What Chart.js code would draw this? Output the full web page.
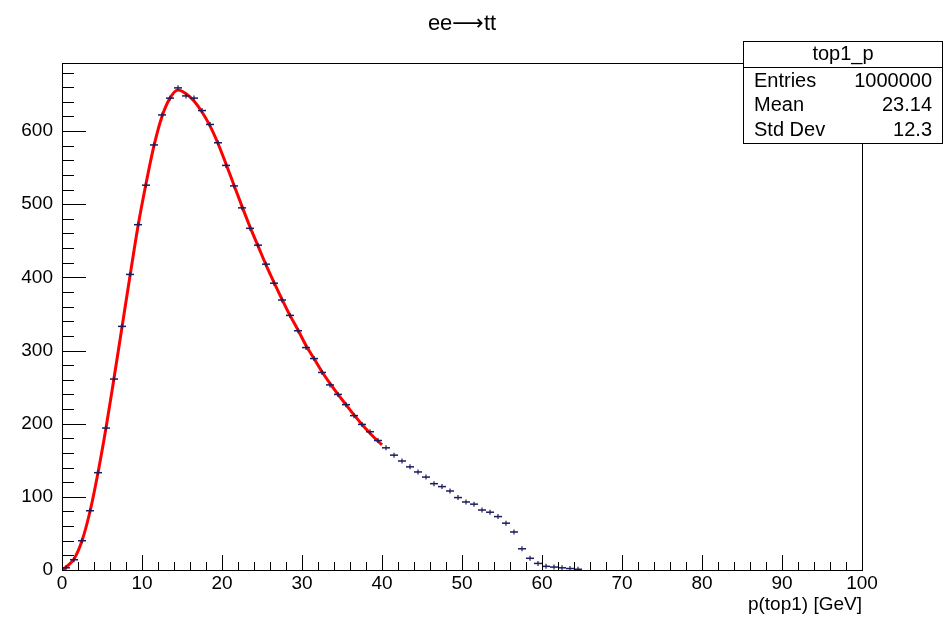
<!DOCTYPE html>
<html>
<head>
<meta charset="utf-8">
<script src="https://cdn.jsdelivr.net/npm/chart.js@4"></script>
<style>
  body { margin: 0; background: #fff; }
</style>
</head>
<body>
<canvas id="histChart" width="944" height="618"></canvas>
<script>
// histogram top1_p : 1 GeV bins starting at 0
const binStart = 0;
const binWidth = 1;
const binCounts = [
  3, 14, 40, 81, 133, 194, 261, 333, 404, 472,
  526, 581, 622, 645, 659, 648, 645, 628, 609, 584,
  553, 525, 495, 467, 444, 418, 392, 369, 348, 327,
  304, 289, 270, 253, 240, 226, 211, 199, 189, 177,
  167, 157, 149, 141, 134, 127, 118, 114, 108, 99,
  93, 90, 82, 79, 73, 64, 52, 29, 16, 9,
  5, 4, 3, 2, 1
];

// fit curve (drawn 0..40 GeV)
const fitX = [0, 0.5, 1.5, 2.5, 3.5, 4.5, 5.5, 6.5, 7.5, 8.5,
  9.5, 10.5, 11.5, 12.5, 13.5, 14.5, 15.5, 16.5, 17.5, 18.5,
  19.5, 20.5, 21.5, 22.5, 23.5, 24.5, 25.5, 26.5, 27.5, 28.5,
  29.5, 30.5, 31.5, 32.5, 33.5, 34.5, 35.5, 36.5, 37.5, 38.5,
  39.5, 40];
const fitY = [0, 4, 15, 40, 80, 133, 194, 262, 332, 402,
  470, 528, 580, 620, 645, 656, 651, 641, 626, 607,
  583, 555, 526, 497, 469, 443, 417, 393, 370, 348,
  328, 307, 289, 271, 255, 240, 226, 212, 199, 187,
  176, 171];

const yTickValues = [0, 100, 200, 300, 400, 500, 600];
const xTickValues = [0, 10, 20, 30, 40, 50, 60, 70, 80, 90, 100];

const statsName = 'top1_p';
const statsLabels = ['Entries', 'Mean', 'Std Dev'];
const statsValues = ['1000000', '23.14', '12.3'];

const FONT = "'Liberation Sans', Arial, Helvetica, sans-serif";
const MARKER = '#1c1c5c';

const histPoints = binCounts.map((c, i) => ({ x: binStart + (i + 0.5) * binWidth, y: c }));
const fitPoints = fitX.map((x, i) => ({ x: x, y: fitY[i] }));

// ROOT-like frame, inward ticks and stats box
const rootFrame = {
  id: 'rootFrame',
  afterDatasetsDraw(chart) {
    const { ctx, chartArea: a, scales: { x, y } } = chart;
    ctx.save();
    ctx.strokeStyle = '#000';
    ctx.lineWidth = 1;
    ctx.strokeRect(a.left + 0.5, a.top + 0.5, a.right - a.left, a.bottom - a.top);
    ctx.beginPath();
    for (let v = x.min; v <= x.max; v += 2) {
      const px = Math.round(x.getPixelForValue(v)) + 0.5;
      const len = v % 10 === 0 ? 15 : 8;
      ctx.moveTo(px, a.bottom);
      ctx.lineTo(px, a.bottom - len);
    }
    for (let v = 0; v <= y.max; v += 20) {
      const py = Math.round(y.getPixelForValue(v)) + 0.5;
      const len = v % 100 === 0 ? 24 : 12;
      ctx.moveTo(a.left, py);
      ctx.lineTo(a.left + len, py);
    }
    ctx.stroke();
    ctx.restore();
  },
  afterDraw(chart) {
    const ctx = chart.ctx;
    const bx = 743, by = 41, bw = 200, bh = 102;
    ctx.save();
    ctx.fillStyle = '#fff';
    ctx.fillRect(bx, by, bw, bh);
    ctx.strokeStyle = '#000';
    ctx.lineWidth = 1;
    ctx.strokeRect(bx + 0.5, by + 0.5, bw - 1, bh);
    ctx.beginPath();
    ctx.moveTo(bx, by + 26.5);
    ctx.lineTo(bx + bw, by + 26.5);
    ctx.stroke();
    ctx.fillStyle = '#000';
    ctx.font = '20px ' + FONT;
    ctx.textBaseline = 'middle';
    ctx.textAlign = 'center';
    ctx.fillText(statsName, bx + bw / 2, by + 13);
    statsLabels.forEach((lab, i) => {
      const ty = by + 40 + i * 24.5;
      ctx.textAlign = 'left';
      ctx.fillText(lab, bx + 11, ty);
      ctx.textAlign = 'right';
      ctx.fillText(statsValues[i], bx + bw - 11, ty);
    });
    ctx.restore();
  }
};

const ctx = document.getElementById('histChart').getContext('2d');
new Chart(ctx, {
  type: 'scatter',
  data: {
    datasets: [
      {
        label: 'bins',
        data: histPoints,
        pointStyle: 'line',
        pointRadius: 4,
        pointBorderWidth: 1.5,
        borderColor: MARKER,
        backgroundColor: MARKER,
        showLine: false
      },
      {
        label: 'errors',
        data: histPoints,
        pointStyle: 'line',
        pointRotation: 90,
        pointRadius: 2.5,
        pointBorderWidth: 1.2,
        borderColor: MARKER,
        backgroundColor: MARKER,
        showLine: false
      },
      {
        label: 'fit',
        data: fitPoints,
        showLine: true,
        borderColor: '#ff0000',
        borderWidth: 3,
        pointRadius: 0,
        cubicInterpolationMode: 'monotone',
        fill: false
      }
    ]
  },
  options: {
    responsive: false,
    animation: false,
    layout: { padding: { left: 0, right: 82, top: 0, bottom: 0 } },
    plugins: {
      legend: { display: false },
      tooltip: { enabled: false },
      title: {
        display: true,
        text: 'ee\u27F6tt',
        fullSize: false,
        color: '#000',
        font: { family: "'Liberation Sans', 'DejaVu Sans', sans-serif", size: 22, weight: 'normal' },
        padding: { top: 11, bottom: 25.6 }
      }
    },
    scales: {
      x: {
        type: 'linear',
        min: 0,
        max: 100,
        grid: { display: false, drawTicks: false },
        border: { display: false },
        ticks: {
          color: '#000',
          font: { family: FONT, size: 19 },
          padding: 2,
          maxRotation: 0,
          autoSkip: false
        },
        afterBuildTicks(scale) { scale.ticks = xTickValues.map(v => ({ value: v })); },
        title: {
          display: true,
          text: 'p(top1) [GeV]',
          align: 'end',
          color: '#000',
          font: { family: FONT, size: 19 },
          padding: { top: 0, bottom: 2 }
        },
        afterFit(scale) { scale.height = 48; }
      },
      y: {
        type: 'linear',
        min: 0,
        max: 693,
        grid: { display: false, drawTicks: false },
        border: { display: false },
        ticks: {
          color: '#000',
          font: { family: FONT, size: 19 },
          padding: 9,
          autoSkip: false
        },
        afterBuildTicks(scale) { scale.ticks = yTickValues.map(v => ({ value: v })); },
        afterFit(scale) { scale.width = 62; }
      }
    }
  },
  plugins: [rootFrame]
});
</script>
</body>
</html>
